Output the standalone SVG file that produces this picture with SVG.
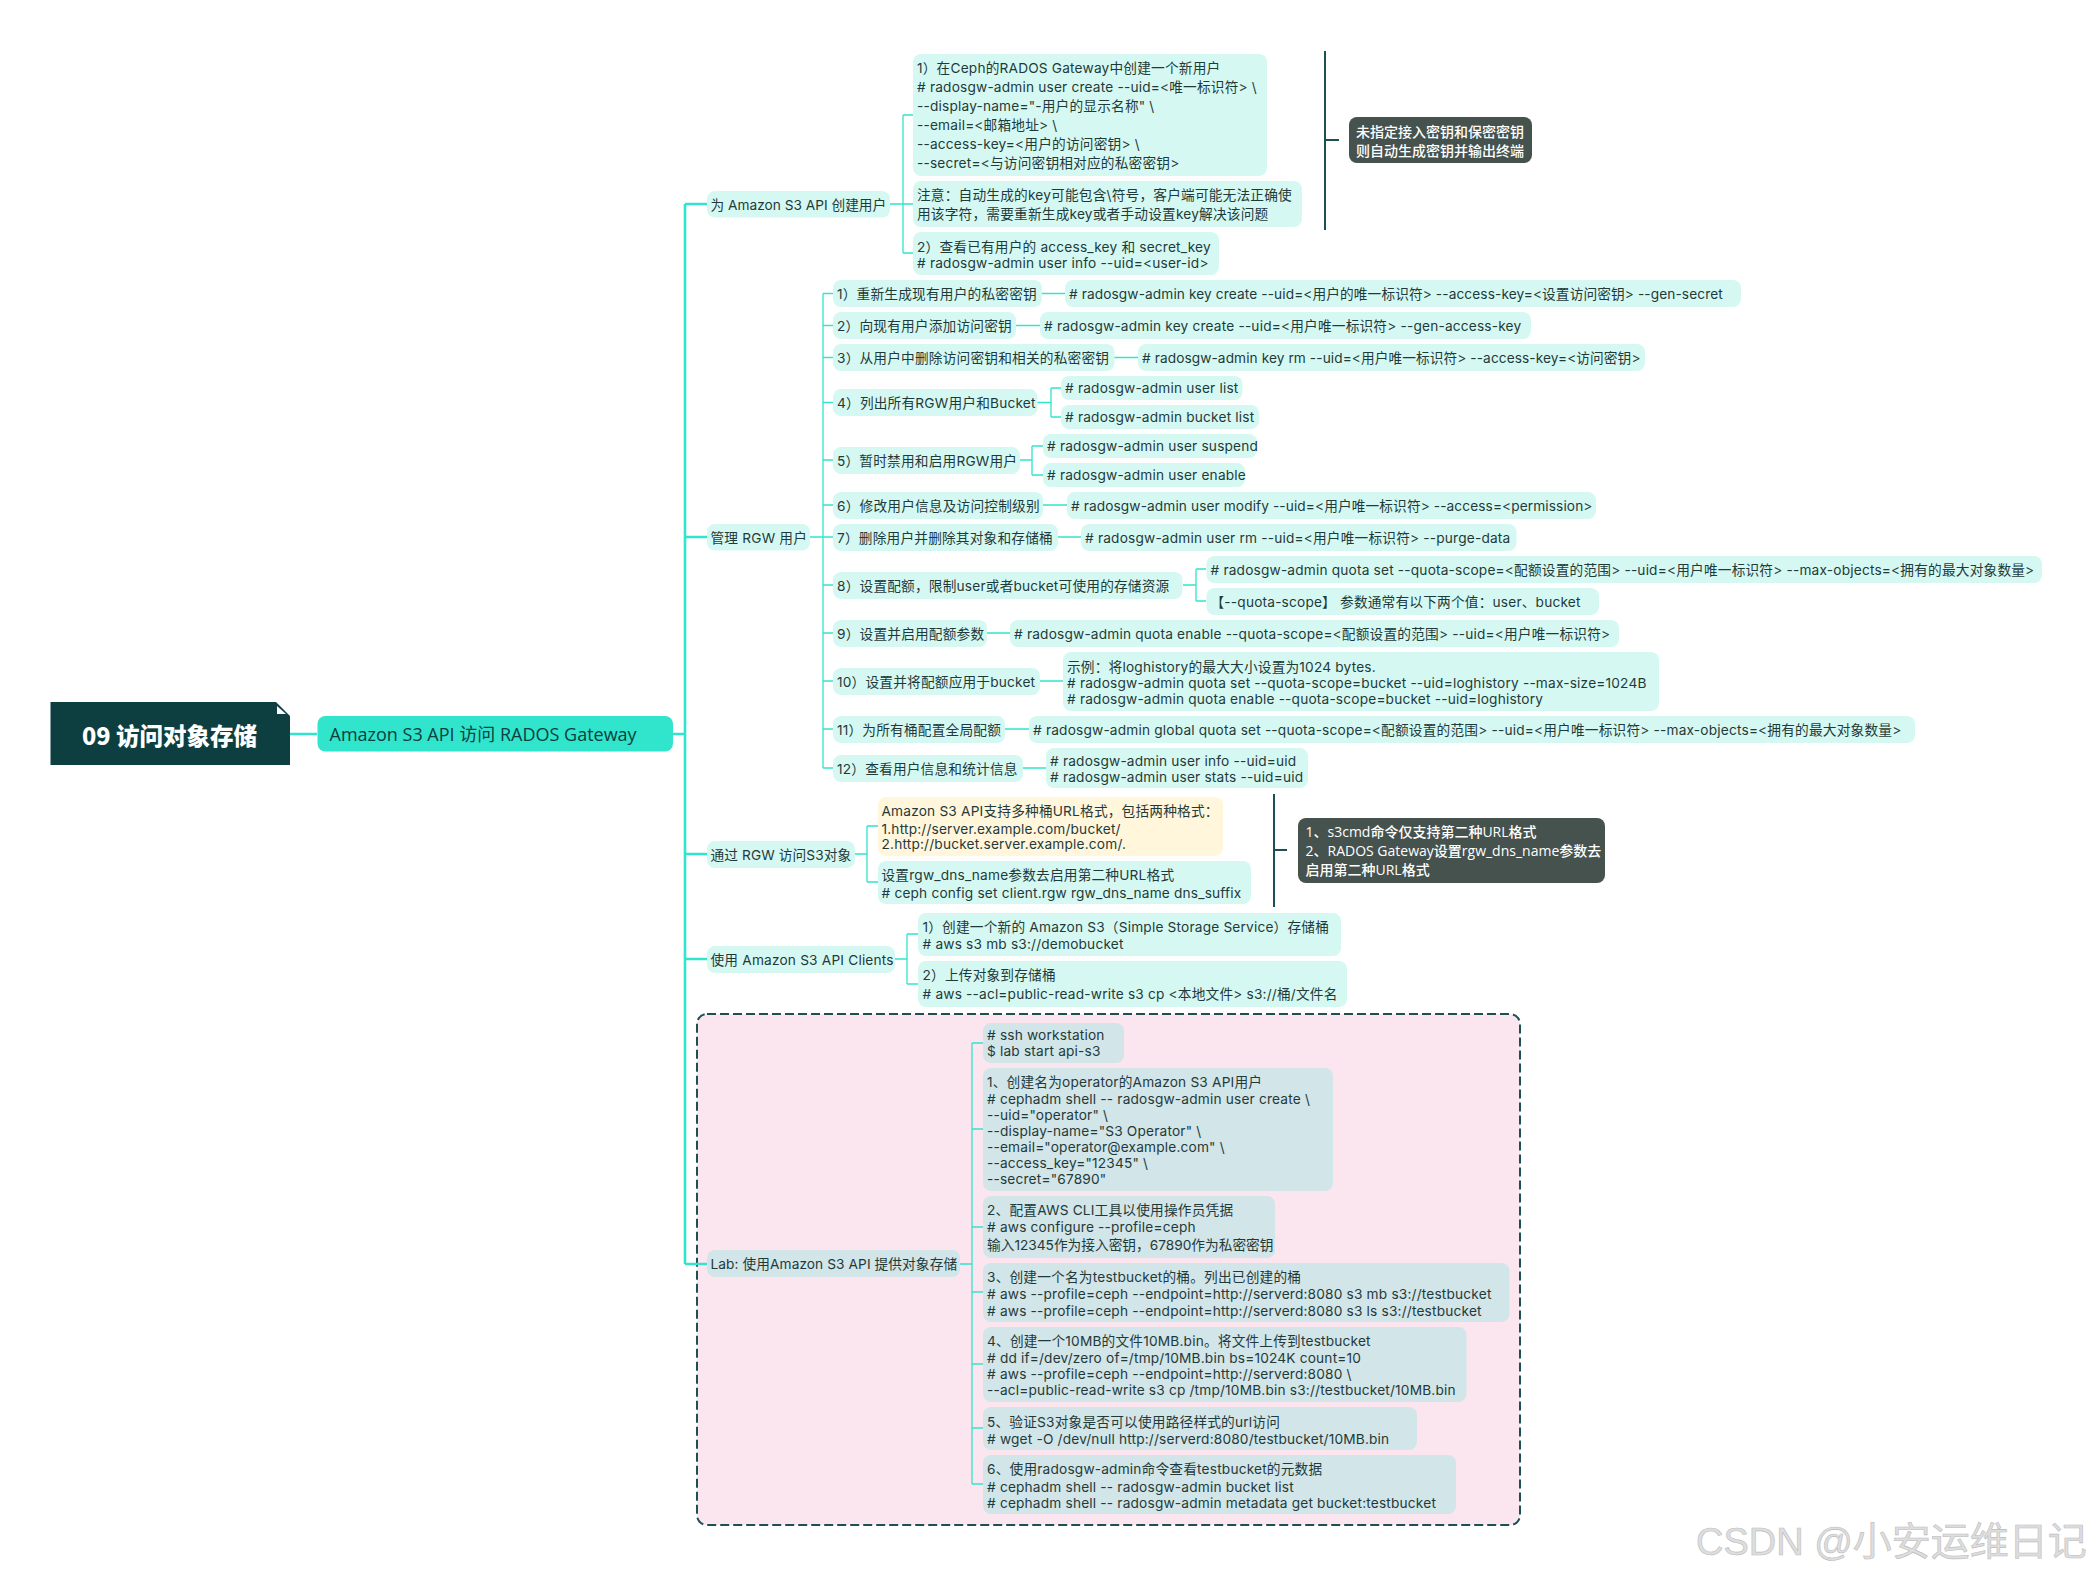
<svg xmlns="http://www.w3.org/2000/svg" width="2093" height="1576" viewBox="0 0 2093 1576">
<style>
text{font-family:"Inter","Noto Sans CJK SC",sans-serif;font-size:13.7px;letter-spacing:.18px;fill:#1f3a3a}
.n{fill:#d5f9f2}.l{fill:#d2e5e8}.y{fill:#fff6dc}.d{fill:#46524e}
text.w{fill:#fff;font-size:14px;letter-spacing:0;font-weight:500;font-family:"Open Sans","Noto Sans CJK SC",sans-serif}
.c path{fill:none;stroke:#30e5cc;stroke-width:1.3}
.c .b{stroke-width:2.6}
.s{fill:none;stroke:#1d5055;stroke-width:2}
</style>
<rect width="2093" height="1576" fill="#fff"/>
<g id="lab-area"><rect x="697" y="1014" width="823" height="511" rx="10" fill="#fbe6f0" stroke="#1d5055" stroke-width="2" stroke-dasharray="9 4"/></g>
<g class="c" id="connectors">
<path class="b" d="M290 734H317M673 734H685M685 204V1264M685 204H707M685 537H707M685 854H707M685 959H707M685 1264H707"/>
<path d="M890 204H903M903 115V253M903 115H913M903 204H913M903 253H913"/>
<path d="M810 537H823M823 293.500V768M823 293.500H833M823 325.500H833M823 357.500H833M823 402.500H833M823 460H833M823 505H833M823 537H833M823 585H833M823 633H833M823 681H833M823 729H833M823 768H833"/>
<path d="M1042 293.500H1065M1016 325.500H1040M1114 357.500H1138M1037 402.500H1051M1051 388V417M1051 388H1061M1051 417H1061M1020 460H1032M1032 446V475M1032 446H1043M1032 475H1043M1043 505H1067M1058 537H1081M1183 585H1196M1196 569V601M1196 569H1206M1196 601H1206M987 633H1010M1040 681H1063M1005 729H1029M1023 768H1046"/>
<path d="M855 854H867M867 826V882M867 826H878M867 882H878M895 959H907M907 934V984M907 934H918M907 984H918"/>
<path d="M960 1264H972M972 1043V1484M972 1043H983M972 1129H983M972 1227H983M972 1292H983M972 1364H983M972 1428H983M972 1484H983"/>
<path class="s" style="stroke:#1d5055;stroke-width:2" d="M1325 51V230M1325 140H1339M1274 794V907M1274 850H1287"/>
</g>
<g id="root"><path d="M50.500 702H276L290 716V765H50.500Z" fill="#0d3f41"/><path d="M277 706V714H286Z" fill="#fff"/><text x="82" y="745" style="font-size:23.500px;letter-spacing:0;font-weight:900;fill:#fff;font-family:'Noto Sans CJK SC',sans-serif">09 访问对象存储</text></g>
<g id="main"><rect x="317.500" y="716" width="355.500" height="35.500" rx="8" fill="#30e5cc"/><text x="329.500" y="740.500" style="font-size:18px;letter-spacing:0;fill:#0d3f41;font-family:'Open Sans','Noto Sans CJK SC',sans-serif">Amazon S3 API 访问 RADOS Gateway</text></g>

<g id="b1"><rect class="n" x="707" y="191" width="183" height="26.500" rx="8"/><text x="710.500" y="210" style="letter-spacing:0">为 Amazon S3 API 创建用户</text></g>
<g id="b1-1"><rect class="n" x="913" y="54" width="354" height="122" rx="8"/>
<text x="917" y="73">1）在Ceph的RADOS Gateway中创建一个新用户</text>
<text x="917" y="92"># radosgw-admin user create --uid=&lt;唯一标识符&gt; \</text>
<text x="917" y="111">--display-name="-用户的显示名称" \</text>
<text x="917" y="130">--email=&lt;邮箱地址&gt; \</text>
<text x="917" y="149">--access-key=&lt;用户的访问密钥&gt; \</text>
<text x="917" y="168">--secret=&lt;与访问密钥相对应的私密密钥&gt;</text></g>
<g id="b1-2"><rect class="n" x="913" y="181" width="389" height="46" rx="8"/>
<text x="917" y="200">注意：自动生成的key可能包含\符号，客户端可能无法正确使</text>
<text x="917" y="219">用该字符，需要重新生成key或者手动设置key解决该问题</text></g>
<g id="b1-3"><rect class="n" x="913" y="232" width="306" height="43" rx="8"/>
<text x="917" y="252">2）查看已有用户的 access_key 和 secret_key</text>
<text x="917" y="268"># radosgw-admin user info --uid=&lt;user-id&gt;</text></g>
<g id="sum1"><rect class="d" x="1349" y="117" width="183" height="46" rx="8"/><text class="w" x="1356" y="137">未指定接入密钥和保密密钥</text><text class="w" x="1356" y="156">则自动生成密钥并输出终端</text></g>

<g id="b2"><rect class="n" x="707" y="524" width="103" height="26.500" rx="8"/><text x="710.500" y="543">管理 RGW 用户</text></g>
<g id="r1"><rect class="n" x="833" y="280" width="209" height="27" rx="8"/><text x="837" y="299">1）重新生成现有用户的私密密钥</text></g>
<g id="r1c"><rect class="n" x="1065" y="280" width="676" height="27" rx="8"/><text x="1069" y="299" style="letter-spacing:.1px"># radosgw-admin key create --uid=&lt;用户的唯一标识符&gt; --access-key=&lt;设置访问密钥&gt; --gen-secret</text></g>
<g id="r2"><rect class="n" x="833" y="312" width="183" height="27" rx="8"/><text x="837" y="331">2）向现有用户添加访问密钥</text></g>
<g id="r2c"><rect class="n" x="1040" y="312" width="491" height="27" rx="8"/><text x="1044" y="331"># radosgw-admin key create --uid=&lt;用户唯一标识符&gt; --gen-access-key</text></g>
<g id="r3"><rect class="n" x="833" y="344" width="281.500" height="27" rx="8"/><text x="837" y="363">3）从用户中删除访问密钥和相关的私密密钥</text></g>
<g id="r3c"><rect class="n" x="1138" y="344" width="507" height="27" rx="8"/><text x="1142" y="363" style="letter-spacing:.08px"># radosgw-admin key rm --uid=&lt;用户唯一标识符&gt; --access-key=&lt;访问密钥&gt;</text></g>
<g id="r4"><rect class="n" x="833" y="389" width="204.500" height="27" rx="8"/><text x="837" y="408">4）列出所有RGW用户和Bucket</text></g>
<g id="r4a"><rect class="n" x="1061" y="376" width="181.500" height="24" rx="8"/><text x="1065" y="393"># radosgw-admin user list</text></g>
<g id="r4b"><rect class="n" x="1061" y="405" width="198" height="24" rx="8"/><text x="1065" y="422"># radosgw-admin bucket list</text></g>
<g id="r5"><rect class="n" x="833" y="447" width="187" height="27" rx="8"/><text x="837" y="466">5）暂时禁用和启用RGW用户</text></g>
<g id="r5a"><rect class="n" x="1043" y="434" width="214" height="24" rx="8"/><text x="1047" y="451"># radosgw-admin user suspend</text></g>
<g id="r5b"><rect class="n" x="1043" y="463" width="202" height="24" rx="8"/><text x="1047" y="480"># radosgw-admin user enable</text></g>
<g id="r6"><rect class="n" x="833" y="492" width="210" height="27" rx="8"/><text x="837" y="511">6）修改用户信息及访问控制级别</text></g>
<g id="r6c"><rect class="n" x="1067" y="492" width="529" height="27" rx="8"/><text x="1071" y="511" style="letter-spacing:.1px"># radosgw-admin user modify --uid=&lt;用户唯一标识符&gt; --access=&lt;permission&gt;</text></g>
<g id="r7"><rect class="n" x="833" y="524" width="225" height="27" rx="8"/><text x="837" y="543">7）删除用户并删除其对象和存储桶</text></g>
<g id="r7c"><rect class="n" x="1081" y="524" width="435.500" height="27" rx="8"/><text x="1085" y="543"># radosgw-admin user rm --uid=&lt;用户唯一标识符&gt; --purge-data</text></g>
<g id="r8"><rect class="n" x="833" y="572" width="349.500" height="27" rx="8"/><text x="837" y="591">8）设置配额，限制user或者bucket可使用的存储资源</text></g>
<g id="r8a"><rect class="n" x="1206.500" y="556" width="835.500" height="27" rx="8"/><text x="1210.500" y="575"># radosgw-admin quota set --quota-scope=&lt;配额设置的范围&gt; --uid=&lt;用户唯一标识符&gt; --max-objects=&lt;拥有的最大对象数量&gt;</text></g>
<g id="r8b"><rect class="n" x="1206.500" y="588" width="392.500" height="27" rx="8"/><text x="1210.500" y="607">【--quota-scope】 参数通常有以下两个值：user、bucket</text></g>
<g id="r9"><rect class="n" x="833" y="620" width="154" height="27" rx="8"/><text x="837" y="639">9）设置并启用配额参数</text></g>
<g id="r9c"><rect class="n" x="1010" y="620" width="609" height="27" rx="8"/><text x="1014" y="639"># radosgw-admin quota enable --quota-scope=&lt;配额设置的范围&gt; --uid=&lt;用户唯一标识符&gt;</text></g>
<g id="r10"><rect class="n" x="833" y="668" width="207" height="27" rx="8"/><text x="837" y="687">10）设置并将配额应用于bucket</text></g>
<g id="r10c"><rect class="n" x="1063" y="652" width="596" height="59" rx="8"/><text x="1067" y="672">示例：将loghistory的最大大小设置为1024 bytes.</text><text x="1067" y="688"># radosgw-admin quota set --quota-scope=bucket --uid=loghistory --max-size=1024B</text><text x="1067" y="704"># radosgw-admin quota enable --quota-scope=bucket --uid=loghistory</text></g>
<g id="r11"><rect class="n" x="833" y="716" width="172" height="27" rx="8"/><text x="837" y="735">11）为所有桶配置全局配额</text></g>
<g id="r11c"><rect class="n" x="1029" y="716" width="886" height="27" rx="8"/><text x="1033" y="735"># radosgw-admin global quota set --quota-scope=&lt;配额设置的范围&gt; --uid=&lt;用户唯一标识符&gt; --max-objects=&lt;拥有的最大对象数量&gt;</text></g>
<g id="r12"><rect class="n" x="833" y="755" width="190" height="27" rx="8"/><text x="837" y="774">12）查看用户信息和统计信息</text></g>
<g id="r12c"><rect class="n" x="1046" y="748" width="262" height="40" rx="8"/><text x="1050" y="766"># radosgw-admin user info --uid=uid</text><text x="1050" y="782"># radosgw-admin user stats --uid=uid</text></g>

<g id="b3"><rect class="n" x="707" y="841" width="148" height="27" rx="8"/><text x="710.500" y="860" style="letter-spacing:.1px">通过 RGW 访问S3对象</text></g>
<g id="b3-1"><rect class="y" x="878" y="797" width="345" height="59" rx="8"/><text x="881.500" y="816">Amazon S3 API支持多种桶URL格式，包括两种格式：</text><text x="881.500" y="834">1.http://server.example.com/bucket/</text><text x="881.500" y="849">2.http://bucket.server.example.com/.</text></g>
<g id="b3-2"><rect class="n" x="878" y="861" width="373" height="43" rx="8"/><text x="881.500" y="880">设置rgw_dns_name参数去启用第二种URL格式</text><text x="881.500" y="898"># ceph config set client.rgw rgw_dns_name dns_suffix</text></g>
<g id="sum2"><rect class="d" x="1298" y="818" width="307" height="65" rx="8"/><text class="w" x="1305.500" y="837">1、s3cmd命令仅支持第二种URL格式</text><text class="w" x="1305.500" y="856">2、RADOS Gateway设置rgw_dns_name参数去</text><text class="w" x="1305.500" y="875">启用第二种URL格式</text></g>

<g id="b4"><rect class="n" x="707" y="946" width="188" height="27" rx="8"/><text x="710.500" y="965">使用 Amazon S3 API Clients</text></g>
<g id="b4-1"><rect class="n" x="918" y="913" width="423" height="43" rx="8"/><text x="922.500" y="932">1）创建一个新的 Amazon S3（Simple Storage Service）存储桶</text><text x="922.500" y="949"># aws s3 mb s3://demobucket</text></g>
<g id="b4-2"><rect class="n" x="918" y="961" width="429" height="46" rx="8"/><text x="922.500" y="980">2）上传对象到存储桶</text><text x="922.500" y="999"># aws --acl=public-read-write s3 cp &lt;本地文件&gt; s3://桶/文件名</text></g>

<g id="b5"><rect class="l" x="707" y="1250" width="253" height="27" rx="8"/><text x="710.500" y="1269" style="letter-spacing:.08px">Lab: 使用Amazon S3 API 提供对象存储</text></g>
<g id="l0"><rect class="l" x="983" y="1023" width="141" height="40" rx="8"/><text x="987" y="1040"># ssh workstation</text><text x="987" y="1056">$ lab start api-s3</text></g>
<g id="l1"><rect class="l" x="983" y="1068" width="350" height="123" rx="8"/><text x="987" y="1087">1、创建名为operator的Amazon S3 API用户</text><text x="987" y="1104"># cephadm shell -- radosgw-admin user create \</text><text x="987" y="1120">--uid="operator" \</text><text x="987" y="1136">--display-name="S3 Operator" \</text><text x="987" y="1152">--email="operator@example.com" \</text><text x="987" y="1168">--access_key="12345" \</text><text x="987" y="1184">--secret="67890"</text></g>
<g id="l2"><rect class="l" x="983" y="1196" width="292" height="62" rx="8"/><text x="987" y="1215">2、配置AWS CLI工具以使用操作员凭据</text><text x="987" y="1232"># aws configure --profile=ceph</text><text x="987" y="1250" style="letter-spacing:0">输入12345作为接入密钥，67890作为私密密钥</text></g>
<g id="l3"><rect class="l" x="983" y="1263" width="526.500" height="59" rx="8"/><text x="987" y="1282">3、创建一个名为testbucket的桶。列出已创建的桶</text><text x="987" y="1299"># aws --profile=ceph --endpoint=http://serverd:8080 s3 mb s3://testbucket</text><text x="987" y="1316"># aws --profile=ceph --endpoint=http://serverd:8080 s3 ls s3://testbucket</text></g>
<g id="l4"><rect class="l" x="983" y="1327" width="483.500" height="75" rx="8"/><text x="987" y="1346">4、创建一个10MB的文件10MB.bin。将文件上传到testbucket</text><text x="987" y="1363"># dd if=/dev/zero of=/tmp/10MB.bin bs=1024K count=10</text><text x="987" y="1379"># aws --profile=ceph --endpoint=http://serverd:8080 \</text><text x="987" y="1395">--acl=public-read-write s3 cp /tmp/10MB.bin s3://testbucket/10MB.bin</text></g>
<g id="l5"><rect class="l" x="983" y="1407" width="434" height="43" rx="8"/><text x="987" y="1427">5、验证S3对象是否可以使用路径样式的url访问</text><text x="987" y="1444"># wget -O /dev/null http://serverd:8080/testbucket/10MB.bin</text></g>
<g id="l6"><rect class="l" x="983" y="1455" width="473" height="59" rx="8"/><text x="987" y="1474">6、使用radosgw-admin命令查看testbucket的元数据</text><text x="987" y="1492"># cephadm shell -- radosgw-admin bucket list</text><text x="987" y="1508"># cephadm shell -- radosgw-admin metadata get bucket:testbucket</text></g>
<text x="1696" y="1555" style="font-size:39px;letter-spacing:0;fill:#dedede;stroke:#bdbdbd;stroke-width:.6;font-family:'Liberation Sans','Noto Sans CJK SC',sans-serif"><tspan style="font-size:38px">CSDN @</tspan>小安运维日记</text>
</svg>
